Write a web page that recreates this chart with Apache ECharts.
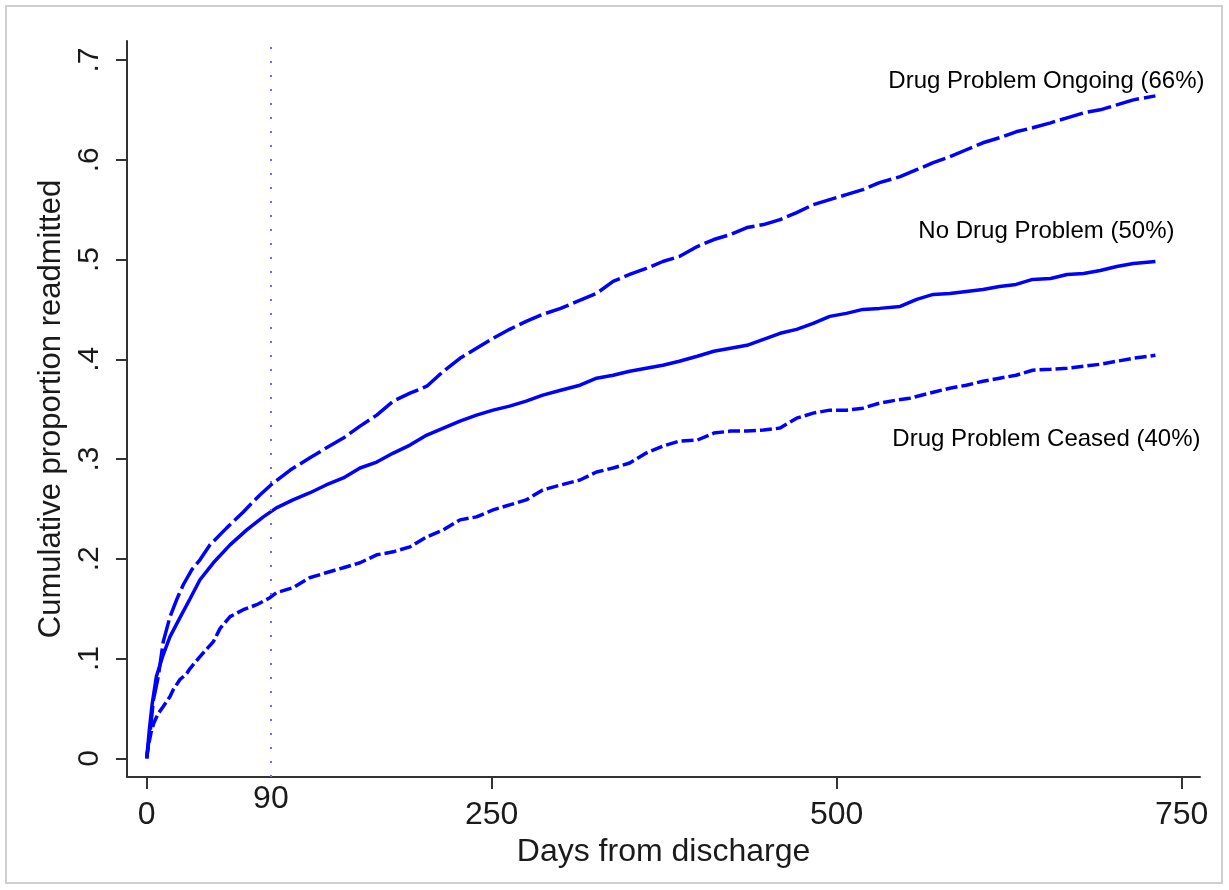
<!DOCTYPE html>
<html>
<head>
<meta charset="utf-8">
<title>Cumulative proportion readmitted</title>
<script src="https://cdn.jsdelivr.net/npm/echarts@6/dist/echarts.min.js"></script>
<style>
  html, body { margin: 0; padding: 0; background: #fff; }
  #chart { width: 1229px; height: 890px; }
</style>
</head>
<body>
<div id="chart"></div>
<script>
// [days from discharge, cumulative proportion readmitted]
const ongoing = [
  [0, 0], [1, 0.012], [2.4, 0.025], [4.8, 0.058], [8.4, 0.082], [12, 0.117], [16.9, 0.142],
  [22, 0.160], [26.5, 0.174], [32.6, 0.189], [38.6, 0.199], [45.9, 0.214], [58, 0.231],
  [70, 0.247], [82, 0.264], [90, 0.274], [104, 0.289], [118, 0.301], [130, 0.311],
  [142.5, 0.321], [154.6, 0.333], [166.7, 0.344], [178.7, 0.358], [190.8, 0.366],
  [203, 0.373], [215, 0.388], [227, 0.401], [239, 0.411], [251, 0.421], [263, 0.430],
  [275, 0.438], [287, 0.445], [300, 0.451], [312, 0.458], [326, 0.466], [338, 0.478],
  [350, 0.485], [362, 0.491], [374, 0.498], [386, 0.503], [399, 0.513], [411, 0.520],
  [423, 0.525], [435, 0.532], [447, 0.535], [459, 0.540], [471, 0.547], [483, 0.555],
  [495, 0.560], [507, 0.565], [519, 0.570], [531, 0.577], [546, 0.583], [558, 0.590],
  [570, 0.597], [582, 0.603], [594, 0.610], [606, 0.617], [618, 0.622], [630, 0.628],
  [642, 0.632], [655, 0.637], [667, 0.642], [679, 0.647], [691, 0.650], [703, 0.655],
  [715, 0.660], [731, 0.664]
];

const noProblem = [
  [0, 0], [2, 0.030], [4, 0.055], [7, 0.082], [12, 0.104], [16.9, 0.122], [24.1, 0.141],
  [31.4, 0.160], [38.6, 0.179], [48.3, 0.196], [60.4, 0.214], [72.5, 0.229], [84.5, 0.242],
  [94, 0.251], [106, 0.259], [118, 0.266], [130, 0.274], [142.5, 0.281], [154.6, 0.291],
  [166.7, 0.297], [178.7, 0.306], [190.8, 0.314], [203, 0.324], [215, 0.331], [227, 0.338],
  [239, 0.344], [251, 0.349], [263, 0.353], [275, 0.358], [287, 0.364], [300, 0.369],
  [314, 0.374], [326, 0.381], [338, 0.384], [350, 0.388], [362, 0.391], [374, 0.394],
  [386, 0.398], [399, 0.403], [411, 0.408], [423, 0.411], [435, 0.414], [447, 0.420],
  [459, 0.426], [471, 0.430], [483, 0.436], [495, 0.443], [507, 0.446], [519, 0.450],
  [531, 0.451], [546, 0.453], [558, 0.460], [570, 0.465], [582, 0.466], [594, 0.468],
  [606, 0.470], [618, 0.473], [630, 0.475], [642, 0.480], [655, 0.481], [667, 0.485],
  [679, 0.486], [691, 0.489], [703, 0.493], [715, 0.496], [731, 0.498]
];

const ceased = [
  [0, 0], [1.2, 0.012], [3, 0.025], [5, 0.035], [8.4, 0.045], [12, 0.052], [16.9, 0.062],
  [19.3, 0.069], [24.1, 0.079], [29, 0.085], [31.4, 0.090], [38.6, 0.102], [48.3, 0.117],
  [53.1, 0.130], [60.4, 0.142], [70, 0.149], [79.7, 0.154], [89.3, 0.161], [94, 0.166],
  [106, 0.171], [118, 0.181], [130, 0.186], [142.5, 0.191], [154.6, 0.196], [166.7, 0.204],
  [178.7, 0.207], [190.8, 0.212], [203, 0.222], [215, 0.229], [227, 0.239], [239, 0.242],
  [251, 0.249], [263, 0.254], [275, 0.259], [287, 0.269], [300, 0.274], [314, 0.279],
  [326, 0.287], [338, 0.291], [350, 0.296], [362, 0.306], [374, 0.313], [386, 0.318],
  [399, 0.319], [411, 0.326], [423, 0.328], [435, 0.328], [447, 0.329], [459, 0.331],
  [471, 0.341], [483, 0.346], [495, 0.349], [507, 0.349], [519, 0.351], [531, 0.356],
  [543, 0.359], [553, 0.361], [570, 0.367], [582, 0.371], [594, 0.374], [606, 0.378],
  [618, 0.381], [630, 0.384], [642, 0.389], [655, 0.390], [667, 0.391], [679, 0.393],
  [691, 0.395], [703, 0.398], [715, 0.401], [731, 0.404]
];

const xTicks = [0, 250, 500, 750];
const xExtraTicks = [90];
const yTicks = [0, 0.1, 0.2, 0.3, 0.4, 0.5, 0.6, 0.7];
const yTickLabels = ['0', '.1', '.2', '.3', '.4', '.5', '.6', '.7'];

const curveLabels = ['Drug Problem Ongoing (66%)', 'No Drug Problem (50%)', 'Drug Problem Ceased (40%)'];
const curveLabelPos = [[652, 0.6784], [652, 0.5281], [652, 0.3196]];

const refLineDay = 90;

const FONT = 'Liberation Sans, Arial, Helvetica, sans-serif';
const TEXT = '#1a1a1a';
const AXIS = '#333';
const BLUE = '#0000ff';

const chart = echarts.init(document.getElementById('chart'));

const option = {
  animation: false,
  backgroundColor: '#fff',
  textStyle: { fontFamily: FONT },
  graphic: [{
    type: 'rect',
    shape: { x: 6, y: 6, width: 1216, height: 877 },
    style: { fill: 'none', stroke: '#cfcfcf', lineWidth: 2 },
    silent: true
  }],
  grid: { left: 127, right: 29, top: 41, bottom: 113 },
  xAxis: [
    {
      type: 'value',
      min: -14.28,
      max: 763.3,
      name: 'Days from discharge',
      nameLocation: 'middle',
      nameGap: 50,
      nameTextStyle: { fontSize: 32, color: TEXT, fontFamily: FONT },
      axisLine: { show: true, onZero: false, lineStyle: { color: AXIS, width: 2 } },
      axisTick: { show: true, customValues: xTicks, length: 12, lineStyle: { color: AXIS, width: 2 } },
      axisLabel: { customValues: xTicks, margin: 22, fontSize: 32, color: TEXT, fontFamily: FONT },
      splitLine: { show: false }
    },
    {
      type: 'value',
      min: -14.28,
      max: 763.3,
      position: 'bottom',
      axisLine: { show: false },
      axisTick: { show: false },
      axisLabel: { customValues: xExtraTicks, margin: 6, fontSize: 32, color: TEXT, fontFamily: FONT },
      splitLine: { show: false }
    }
  ],
  yAxis: {
    type: 'value',
    min: -0.0187,
    max: 0.719,
    name: 'Cumulative proportion readmitted',
    nameLocation: 'middle',
    nameRotate: 90,
    nameGap: 55,
    nameTextStyle: { fontSize: 31, color: TEXT, fontFamily: FONT },
    axisLine: { show: true, onZero: false, lineStyle: { color: AXIS, width: 2 } },
    axisTick: { show: true, customValues: yTicks, length: 11, lineStyle: { color: AXIS, width: 2 } },
    axisLabel: {
      customValues: yTicks,
      rotate: 90,
      margin: 22,
      fontSize: 30,
      color: TEXT,
      fontFamily: FONT,
      formatter: v => yTickLabels[yTicks.findIndex(t => Math.abs(t - v) < 1e-6)] ?? ''
    },
    splitLine: { show: false }
  },
  series: [
    {
      name: 'Drug Problem Ongoing',
      type: 'line',
      data: ongoing,
      symbol: 'none',
      lineStyle: { color: BLUE, width: 3.5, type: [24, 5] }
    },
    {
      name: 'No Drug Problem',
      type: 'line',
      data: noProblem,
      symbol: 'none',
      lineStyle: { color: BLUE, width: 3.5 },
      markLine: {
        silent: true,
        symbol: ['none', 'none'],
        label: { show: false },
        lineStyle: { color: '#6b6bff', width: 2, type: [2, 12] },
        data: [{ xAxis: refLineDay }]
      }
    },
    {
      name: 'Drug Problem Ceased',
      type: 'line',
      data: ceased,
      symbol: 'none',
      lineStyle: { color: BLUE, width: 3.5, type: [12, 4] }
    },
    {
      name: 'labels',
      type: 'scatter',
      data: curveLabelPos,
      symbolSize: 1,
      itemStyle: { color: 'rgba(0,0,0,0)' },
      silent: true,
      label: {
        show: true,
        position: 'inside',
        formatter: p => curveLabels[p.dataIndex],
        fontSize: 24,
        color: '#000',
        opacity: 1,
        textBorderWidth: 0,
        fontFamily: FONT
      }
    }
  ]
};

chart.setOption(option);
window.addEventListener('resize', () => chart.resize());
</script>
</body>
</html>
